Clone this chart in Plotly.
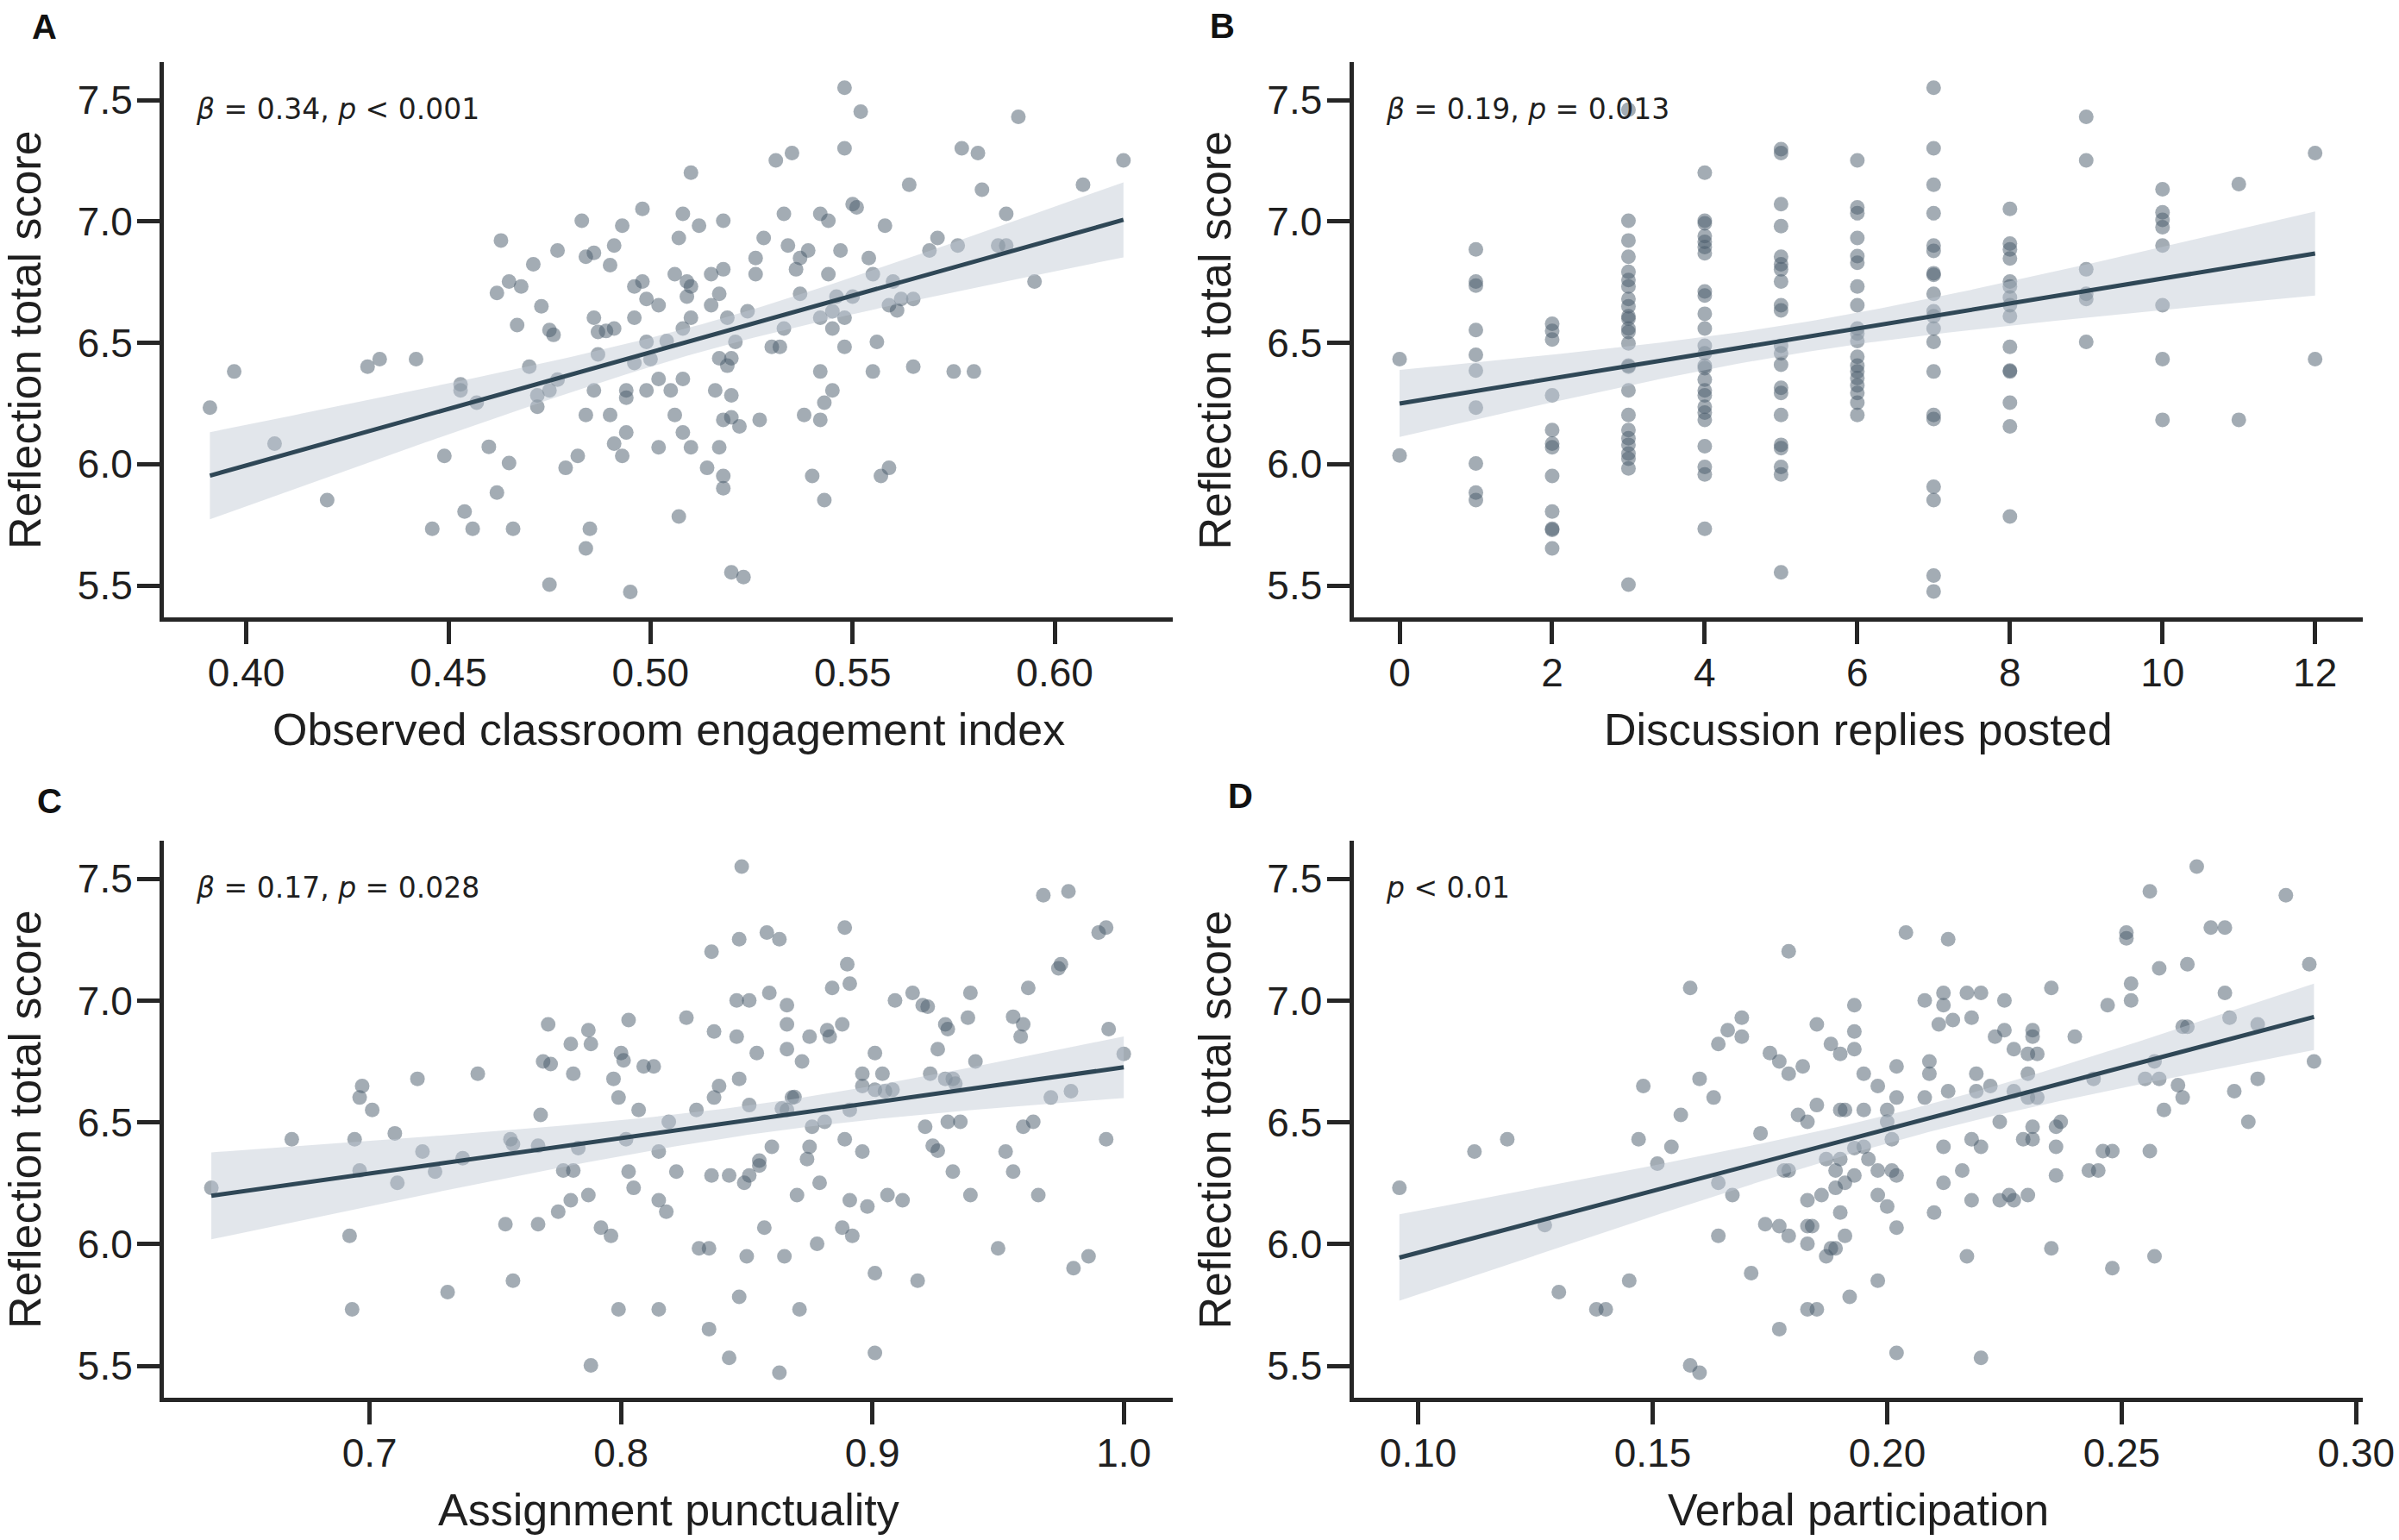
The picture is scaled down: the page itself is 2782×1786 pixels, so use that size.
import numpy as np
import plotly.graph_objects as go

W, H = 2782, 1786

# ---- panel A: observed classroom engagement index vs reflection score
a_engagement = [
    0.391, 0.397, 0.407, 0.420, 0.430, 0.433, 0.442, 0.446, 0.449, 0.453,
    0.453, 0.454, 0.456, 0.457, 0.460, 0.462, 0.463, 0.462, 0.465, 0.468,
    0.465, 0.466, 0.467, 0.470, 0.471, 0.472, 0.472, 0.473, 0.475, 0.475,
    0.475, 0.476, 0.477, 0.477, 0.479, 0.482, 0.483, 0.484, 0.486, 0.486,
    0.487, 0.487, 0.486, 0.484, 0.485, 0.484,
    0.548, 0.552, 0.591, 0.548, 0.577, 0.581, 0.617, 0.531, 0.535, 0.510,
    0.564, 0.607, 0.582, 0.550, 0.551, 0.498, 0.508, 0.533, 0.542, 0.544,
    0.588, 0.493, 0.512, 0.518, 0.558, 0.507, 0.528, 0.571, 0.491, 0.534,
    0.539, 0.547, 0.569, 0.576, 0.586, 0.588, 0.490, 0.526, 0.537, 0.554,
    0.536, 0.518, 0.515, 0.526, 0.544, 0.555, 0.506, 0.496, 0.498, 0.509,
    0.510, 0.509, 0.499, 0.502, 0.517, 0.515, 0.537, 0.546, 0.550, 0.560,
    0.559, 0.561, 0.562, 0.565, 0.595, 0.496, 0.510, 0.519, 0.524, 0.542,
    0.545, 0.548, 0.489, 0.491, 0.508, 0.533, 0.545, 0.504, 0.499, 0.521,
    0.530, 0.532, 0.548, 0.556, 0.496, 0.500, 0.517, 0.519, 0.520, 0.542,
    0.555, 0.565, 0.575, 0.580, 0.494, 0.494, 0.499, 0.502, 0.505, 0.508,
    0.516, 0.520, 0.545, 0.543, 0.490, 0.506, 0.518, 0.520, 0.522, 0.527,
    0.538, 0.542, 0.494, 0.508, 0.491, 0.493, 0.502, 0.510, 0.517, 0.514,
    0.518, 0.518, 0.540, 0.557, 0.559, 0.543, 0.507, 0.520, 0.523, 0.495,
]
a_score = [
    6.233, 6.382, 6.085, 5.852, 6.402, 6.433, 6.433, 5.734, 6.034, 6.329,
    6.304, 5.805, 5.734, 6.254, 6.072, 5.883, 6.922, 6.706, 6.753, 6.732,
    6.005, 5.734, 6.573, 6.402, 6.824, 6.284, 6.237, 6.651, 6.304, 5.504,
    6.553, 6.533, 6.881, 6.349, 5.985, 6.034, 7.003, 6.855, 6.871, 6.604,
    6.545, 6.453, 6.304, 6.203, 5.734, 5.653,
    7.551, 7.453, 7.431, 7.302, 7.302, 7.282, 7.252, 7.252, 7.282, 7.201,
    7.152, 7.152, 7.131, 7.072, 7.058, 7.052, 7.032, 7.032, 7.032, 7.003,
    7.032, 6.983, 6.983, 7.003, 6.983, 6.932, 6.932, 6.932, 6.901, 6.901,
    6.881, 6.881, 6.881, 6.901, 6.901, 6.901, 6.820, 6.850, 6.850, 6.850,
    6.803, 6.803, 6.783, 6.783, 6.783, 6.783, 6.783, 6.732, 6.753, 6.753,
    6.732, 6.691, 6.681, 6.655, 6.702, 6.655, 6.702, 6.691, 6.691, 6.753,
    6.655, 6.634, 6.681, 6.681, 6.753, 6.604, 6.604, 6.604, 6.630, 6.604,
    6.630, 6.604, 6.549, 6.559, 6.559, 6.559, 6.559, 6.508, 6.504, 6.504,
    6.484, 6.484, 6.484, 6.504, 6.417, 6.433, 6.437, 6.406, 6.437, 6.382,
    6.382, 6.402, 6.382, 6.382, 6.304, 6.274, 6.304, 6.351, 6.304, 6.351,
    6.304, 6.284, 6.304, 6.254, 6.203, 6.203, 6.183, 6.193, 6.156, 6.183,
    6.203, 6.183, 6.131, 6.131, 6.085, 6.034, 6.070, 6.070, 6.070, 5.985,
    5.952, 5.901, 5.952, 5.952, 5.985, 5.852, 5.785, 5.555, 5.535, 5.474,
]

# ---- panel B: discussion replies posted vs reflection score
b_replies = [
    0, 0,
    1, 1, 1, 1, 1, 1, 1, 1, 1, 1,
    2, 2, 2, 2, 2, 2, 2, 2, 2, 2, 2, 2,
    3, 3, 3, 3, 3, 3, 3, 3, 3, 3, 3, 3, 3, 3, 3, 3, 3, 3, 3, 3, 3, 3, 3, 3, 3,
    4, 4, 4, 4, 4, 4, 4, 4, 4, 4, 4, 4, 4, 4, 4, 4, 4, 4, 4, 4, 4, 4, 4, 4, 4,
    5, 5, 5, 5, 5, 5, 5, 5, 5, 5, 5, 5, 5, 5, 5, 5, 5, 5, 5, 5, 5,
    6, 6, 6, 6, 6, 6, 6, 6, 6, 6, 6, 6, 6, 6, 6, 6, 6, 6, 6,
    7, 7, 7, 7, 7, 7, 7, 7, 7, 7, 7, 7, 7, 7, 7, 7, 7, 7, 7, 7,
    8, 8, 8, 8, 8, 8, 8, 8, 8, 8, 8, 8, 8, 8, 8,
    9, 9, 9, 9, 9, 9,
    10, 10, 10, 10, 10, 10, 10, 10,
    11, 11,
    12, 12,
]
b_score = [
    6.433, 6.036,
    6.885, 6.753, 6.736, 6.553, 6.451, 6.386, 6.233, 6.003, 5.883, 5.852,
    6.579, 6.549, 6.514, 6.284, 6.141, 6.085, 6.070, 5.952, 5.805, 5.734, 5.730, 5.653,
    7.461, 7.003, 6.922, 6.855, 6.793, 6.759, 6.732, 6.681, 6.651, 6.610, 6.600, 6.559, 6.545,
    6.498, 6.406, 6.402, 6.304, 6.203, 6.141, 6.107, 6.080, 6.044, 6.023, 5.983, 5.504,
    7.201, 7.003, 6.993, 6.940, 6.916, 6.895, 6.869, 6.712, 6.695, 6.620, 6.559, 6.488, 6.457,
    6.406, 6.396, 6.349, 6.304, 6.284, 6.237, 6.213, 6.183, 6.074, 5.989, 5.958, 5.734,
    7.298, 7.282, 7.072, 6.981, 6.855, 6.824, 6.803, 6.753, 6.655, 6.634, 6.488,
    6.457, 6.410, 6.315, 6.294, 6.203, 6.080, 6.066, 5.989, 5.958, 5.555,
    7.252, 7.058, 7.034, 6.932, 6.858, 6.830, 6.732, 6.655, 6.559, 6.539,
    6.508, 6.443, 6.406, 6.382, 6.355, 6.325, 6.294, 6.254, 6.203,
    7.551, 7.302, 7.152, 7.034, 6.901, 6.879, 6.787, 6.780, 6.702, 6.630,
    6.610, 6.559, 6.504, 6.382, 6.203, 6.186, 5.907, 5.852, 5.541, 5.476,
    7.052, 6.909, 6.885, 6.848, 6.753, 6.732, 6.687, 6.655, 6.610, 6.484,
    6.386, 6.382, 6.254, 6.156, 5.785,
    7.431, 7.252, 6.803, 6.702, 6.681, 6.504,
    7.133, 7.038, 7.007, 6.977, 6.901, 6.655, 6.433, 6.183,
    7.154, 6.183,
    7.282, 6.433,
]

# ---- panel C: assignment punctuality vs reflection score
c_punctuality = [
    0.637, 0.669, 0.697, 0.696, 0.701, 0.694, 0.696, 0.692, 0.693, 0.710,
    0.711, 0.719, 0.721, 0.726, 0.731, 0.737, 0.743, 0.754, 0.756, 0.757,
    0.757, 0.767, 0.767, 0.768, 0.771, 0.769, 0.772, 0.775, 0.777, 0.780,
    0.781, 0.781, 0.780, 0.783, 0.787, 0.788, 0.787, 0.788, 0.792,
    0.848, 0.968, 0.978, 0.889, 0.990, 0.993, 0.847, 0.858, 0.863, 0.836,
    0.890, 0.974, 0.975, 0.884, 0.891, 0.962, 0.846, 0.851, 0.859, 0.866,
    0.909, 0.916, 0.920, 0.922, 0.939, 0.803, 0.826, 0.938, 0.956, 0.960,
    0.959, 0.994, 0.837, 0.846, 0.866, 0.875, 0.882, 0.883, 0.888, 0.929,
    0.930, 0.800, 0.801, 0.854, 0.866, 0.872, 0.901, 0.926, 0.941, 1.000,
    0.797, 0.809, 0.813, 0.799, 0.807, 0.839, 0.837, 0.847, 0.830, 0.851,
    0.819, 0.868, 0.869, 0.866, 0.864, 0.896, 0.904, 0.896, 0.901, 0.905,
    0.908, 0.923, 0.929, 0.932, 0.933, 0.971, 0.979, 0.891, 0.876, 0.881,
    0.802, 0.921, 0.930, 0.935, 0.960, 0.964, 0.993, 0.815, 0.860, 0.875,
    0.874, 0.889, 0.896, 0.924, 0.926, 0.953, 0.855, 0.855, 0.803, 0.822,
    0.836, 0.843, 0.851, 0.849, 0.932, 0.956, 0.805, 0.815, 0.818, 0.870,
    0.879, 0.891, 0.898, 0.906, 0.912, 0.939, 0.966, 0.796, 0.857, 0.888,
    0.892, 0.831, 0.835, 0.850, 0.865, 0.878, 0.950, 0.980, 0.986, 0.901,
    0.918, 0.847, 0.799, 0.815, 0.871, 0.835, 0.843, 0.863, 0.901,
]
c_score = [
    6.231, 6.431, 6.649, 6.602, 6.551, 6.431, 6.302, 6.034, 5.732, 6.455,
    6.252, 6.679, 6.380, 6.298, 5.803, 6.353, 6.700, 6.082, 6.431, 6.410,
    5.850, 6.082, 6.404, 6.531, 6.903, 6.750, 6.740, 6.133, 6.302, 6.822,
    6.700, 6.302, 6.180, 6.394, 6.879, 6.822, 6.201, 5.502, 6.068,
    7.551, 7.433, 7.449, 7.300, 7.280, 7.300, 7.252, 7.280, 7.252, 7.201,
    7.150, 7.133, 7.150, 7.052, 7.070, 7.052, 7.001, 7.001, 7.032, 6.981,
    7.001, 7.032, 6.981, 6.975, 7.032, 6.920, 6.930, 6.930, 6.934, 6.903,
    6.852, 6.883, 6.873, 6.852, 6.903, 6.852, 6.879, 6.852, 6.903, 6.903,
    6.883, 6.785, 6.755, 6.785, 6.801, 6.750, 6.785, 6.801, 6.750, 6.781,
    6.679, 6.730, 6.730, 6.602, 6.551, 6.649, 6.602, 6.679, 6.551, 6.571,
    6.502, 6.602, 6.604, 6.551, 6.557, 6.700, 6.700, 6.649, 6.634, 6.628,
    6.634, 6.700, 6.679, 6.679, 6.659, 6.602, 6.628, 6.551, 6.482, 6.502,
    6.431, 6.482, 6.502, 6.502, 6.482, 6.502, 6.431, 6.380, 6.400, 6.400,
    6.349, 6.431, 6.380, 6.404, 6.384, 6.380, 6.343, 6.323, 6.298, 6.298,
    6.282, 6.282, 6.282, 6.252, 6.298, 6.298, 6.231, 6.180, 6.133, 6.201,
    6.252, 6.180, 6.154, 6.201, 6.180, 6.201, 6.201, 6.034, 6.068, 6.068,
    6.034, 5.983, 5.983, 5.950, 5.950, 6.001, 5.983, 5.901, 5.950, 5.881,
    5.850, 5.783, 5.732, 5.732, 5.732, 5.651, 5.533, 5.472, 5.553,
]

# ---- panel D: verbal participation vs reflection score
d_verbal = [
    0.096, 0.112, 0.119, 0.127, 0.130, 0.138, 0.140, 0.145, 0.147, 0.148,
    0.151, 0.154, 0.156, 0.158, 0.158, 0.160, 0.160, 0.163, 0.164, 0.166,
    0.164, 0.164, 0.167, 0.169, 0.169, 0.171, 0.173, 0.174, 0.175, 0.177,
    0.179, 0.179, 0.177, 0.179, 0.177, 0.178, 0.179,
    0.266, 0.256, 0.285, 0.269, 0.272, 0.251, 0.251, 0.204, 0.213, 0.290,
    0.258, 0.264, 0.235, 0.252, 0.272, 0.252, 0.247, 0.193, 0.208, 0.212,
    0.212, 0.217, 0.220, 0.225, 0.185, 0.193, 0.211, 0.214, 0.218, 0.223,
    0.225, 0.231, 0.231, 0.240, 0.263, 0.264, 0.273, 0.279, 0.188, 0.190,
    0.193, 0.227, 0.230, 0.232, 0.291, 0.182, 0.202, 0.209, 0.209, 0.195,
    0.219, 0.230, 0.198, 0.202, 0.208, 0.213, 0.219, 0.222, 0.227, 0.230,
    0.232, 0.244, 0.255, 0.258, 0.257, 0.262, 0.263, 0.274, 0.279, 0.259,
    0.277, 0.181, 0.183, 0.185, 0.190, 0.191, 0.195, 0.200, 0.200, 0.201,
    0.224, 0.231, 0.236, 0.237, 0.229, 0.231, 0.236, 0.218, 0.220, 0.212,
    0.193, 0.195, 0.187, 0.190, 0.196, 0.189, 0.193, 0.198, 0.201, 0.202,
    0.216, 0.243, 0.245, 0.246, 0.248, 0.256, 0.236, 0.212, 0.189, 0.191,
    0.183, 0.186, 0.198, 0.200, 0.190, 0.210, 0.218, 0.224, 0.226, 0.227,
    0.230, 0.183, 0.184, 0.183, 0.202, 0.191, 0.187, 0.188, 0.189, 0.217,
    0.235, 0.257, 0.248, 0.198, 0.192, 0.183, 0.185, 0.202, 0.220,
]
d_score = [
    6.231, 6.380, 6.431, 6.078, 5.803, 5.732, 5.732, 5.850, 6.431, 6.649,
    6.331, 6.400, 6.531, 7.052, 5.502, 5.472, 6.679, 6.602, 6.822, 6.879,
    6.252, 6.034, 6.201, 6.930, 6.852, 5.881, 6.455, 6.082, 6.785, 6.750,
    7.203, 6.700, 6.074, 6.034, 5.651, 6.302, 6.302,
    7.551, 7.449, 7.433, 7.300, 7.300, 7.280, 7.256, 7.280, 7.252, 7.150,
    7.133, 7.150, 7.052, 7.070, 7.032, 7.001, 6.981, 6.981, 7.001, 7.032,
    6.981, 7.032, 7.032, 7.001, 6.903, 6.873, 6.903, 6.920, 6.930, 6.852,
    6.879, 6.879, 6.852, 6.852, 6.893, 6.893, 6.930, 6.903, 6.822, 6.781,
    6.801, 6.801, 6.781, 6.781, 6.750, 6.730, 6.730, 6.750, 6.700, 6.700,
    6.700, 6.700, 6.649, 6.602, 6.602, 6.628, 6.628, 6.649, 6.628, 6.602,
    6.602, 6.679, 6.679, 6.679, 6.750, 6.653, 6.602, 6.628, 6.679, 6.551,
    6.502, 6.531, 6.502, 6.571, 6.551, 6.551, 6.551, 6.551, 6.502, 6.431,
    6.502, 6.482, 6.482, 6.502, 6.431, 6.431, 6.400, 6.431, 6.400, 6.400,
    6.394, 6.400, 6.349, 6.349, 6.349, 6.302, 6.282, 6.302, 6.302, 6.282,
    6.302, 6.302, 6.302, 6.382, 6.382, 6.382, 6.282, 6.252, 6.231, 6.252,
    6.180, 6.201, 6.201, 6.154, 6.130, 6.130, 6.180, 6.180, 6.201, 6.180,
    6.201, 6.074, 6.074, 6.001, 6.068, 6.034, 5.950, 5.983, 5.983, 5.950,
    5.983, 5.950, 5.901, 5.850, 5.783, 5.732, 5.732, 5.553, 5.533,
]

panel_letters = ["A", "B", "C", "D"]
x_titles = [
    "Observed classroom engagement index",
    "Discussion replies posted",
    "Assignment punctuality",
    "Verbal participation",
]
y_title = "Reflection total score"
stat_labels = [
    "<i>β</i> = 0.34, <i>p</i> &lt; 0.001",
    "<i>β</i> = 0.19, <i>p</i> = 0.013",
    "<i>β</i> = 0.17, <i>p</i> = 0.028",
    "<i>p</i> &lt; 0.01",
]
x_ticks = [
    [0.40, 0.45, 0.50, 0.55, 0.60],
    [0, 2, 4, 6, 8, 10, 12],
    [0.7, 0.8, 0.9, 1.0],
    [0.10, 0.15, 0.20, 0.25, 0.30],
]
x_tickformat = [".2f", "d", ".1f", ".2f"]
y_ticks = [5.5, 6.0, 6.5, 7.0, 7.5]

x_ranges = [[0.3796, 0.6292], [-0.605, 12.625], [0.6181, 1.0195], [0.0862, 0.3014]]
y_range = [5.369, 7.657]

# pixel boxes of the four plot areas (left, right, top, bottom)
boxes = [
    (190, 1360, 72, 716),
    (1569.5, 2740, 72, 716),
    (190, 1360, 975, 1621),
    (1569.5, 2740, 975, 1621),
]

AX_COLOR = "#262626"
TXT_COLOR = "#1f1f1f"
PT_COLOR = "rgba(72, 90, 106, 0.5)"
LINE_COLOR = "#2f4756"
BAND_COLOR = "rgba(190, 200, 210, 0.45)"
SANS = "Liberation Sans, Arial, sans-serif"


def px_x(p):
    return p / W


def px_y(p):
    return 1 - p / H


def fit_band(x, y, n_grid=120):
    """OLS fit with a 95% confidence band, like seaborn's regplot."""
    x = np.asarray(x, float)
    y = np.asarray(y, float)
    n = len(x)
    slope, icpt = np.polyfit(x, y, 1)
    resid = y - (icpt + slope * x)
    s = np.sqrt((resid ** 2).sum() / (n - 2))
    sxx = ((x - x.mean()) ** 2).sum()
    grid = np.linspace(x.min(), x.max(), n_grid)
    fit = icpt + slope * grid
    half = 1.97 * s * np.sqrt(1.0 / n + (grid - x.mean()) ** 2 / sxx)
    return grid, fit, fit - half, fit + half


panels = [
    (a_engagement, a_score),
    (b_replies, b_score),
    (c_punctuality, c_score),
    (d_verbal, d_score),
]

fig = go.Figure()
layout = {}
annotations = []

for i, (xs, ys) in enumerate(panels):
    n = i + 1
    xref = "x" if n == 1 else f"x{n}"
    yref = "y" if n == 1 else f"y{n}"
    left, right, top, bottom = boxes[i]

    fig.add_trace(go.Scatter(
        x=xs, y=ys, mode="markers", xaxis=xref, yaxis=yref,
        marker=dict(size=17, color=PT_COLOR, line=dict(width=0)),
        showlegend=False, hoverinfo="skip",
    ))
    grid, fit, lo, hi = fit_band(xs, ys)
    fig.add_trace(go.Scatter(
        x=np.concatenate([grid, grid[::-1]]),
        y=np.concatenate([lo, hi[::-1]]),
        fill="toself", fillcolor=BAND_COLOR, line=dict(width=0),
        mode="lines", xaxis=xref, yaxis=yref,
        showlegend=False, hoverinfo="skip",
    ))
    fig.add_trace(go.Scatter(
        x=grid, y=fit, mode="lines", xaxis=xref, yaxis=yref,
        line=dict(color=LINE_COLOR, width=5),
        showlegend=False, hoverinfo="skip",
    ))

    common = dict(
        showline=True, linewidth=5, linecolor=AX_COLOR,
        ticks="outside", ticklen=26, tickwidth=5, tickcolor=AX_COLOR,
        showgrid=False, zeroline=False, automargin=False,
        tickfont=dict(family=SANS, size=46, color=TXT_COLOR),
    )
    layout["xaxis" if n == 1 else f"xaxis{n}"] = dict(
        common,
        domain=[px_x(left), px_x(right)],
        range=x_ranges[i],
        tickvals=x_ticks[i],
        tickformat=x_tickformat[i],
        anchor=yref,
        ticklabelstandoff=-6,
    )
    layout["yaxis" if n == 1 else f"yaxis{n}"] = dict(
        common,
        domain=[px_y(bottom), px_y(top)],
        range=y_range,
        tickvals=y_ticks,
        tickformat=".1f",
        anchor=xref,
        ticklabelstandoff=-4,
    )

    # statistics label
    annotations.append(dict(
        text=stat_labels[i], xref=f"{xref} domain", yref=f"{yref} domain",
        x=0.03, y=0.915, xanchor="left", yanchor="middle", showarrow=False,
        font=dict(family="DejaVu Sans", size=33, color=TXT_COLOR),
    ))
    # x axis title
    annotations.append(dict(
        text=x_titles[i], xref="paper", yref="paper",
        x=px_x((left + right) / 2), y=px_y(bottom + 130),
        xanchor="center", yanchor="middle", showarrow=False,
        font=dict(family=SANS, size=52, color=TXT_COLOR),
    ))
    # y axis title
    annotations.append(dict(
        text=y_title, xref="paper", yref="paper", textangle=-90,
        x=px_x(left - 161), y=px_y((top + bottom) / 2),
        xanchor="center", yanchor="middle", showarrow=False,
        font=dict(family=SANS, size=52, color=TXT_COLOR),
    ))

letter_pos = [(52, 31), (1418, 30), (57, 929), (1438, 923)]
for letter, (lx, ly) in zip(panel_letters, letter_pos):
    annotations.append(dict(
        text=f"<b>{letter}</b>", xref="paper", yref="paper",
        x=px_x(lx), y=px_y(ly), xanchor="center", yanchor="middle",
        showarrow=False, font=dict(family=SANS, size=40, color="#111111"),
    ))

fig.update_layout(
    width=W, height=H,
    margin=dict(l=0, r=0, t=0, b=0, autoexpand=False),
    paper_bgcolor="white", plot_bgcolor="white",
    annotations=annotations,
    **layout,
)

# drop the default body margin so the figure fills the window exactly
fig.write_html(
    "out.html",
    config={"displayModeBar": False},
    post_script=(
        "document.body.style.margin='0';"
        "document.body.style.overflow='hidden';"
        "document.documentElement.style.overflow='hidden';"
    ),
)
